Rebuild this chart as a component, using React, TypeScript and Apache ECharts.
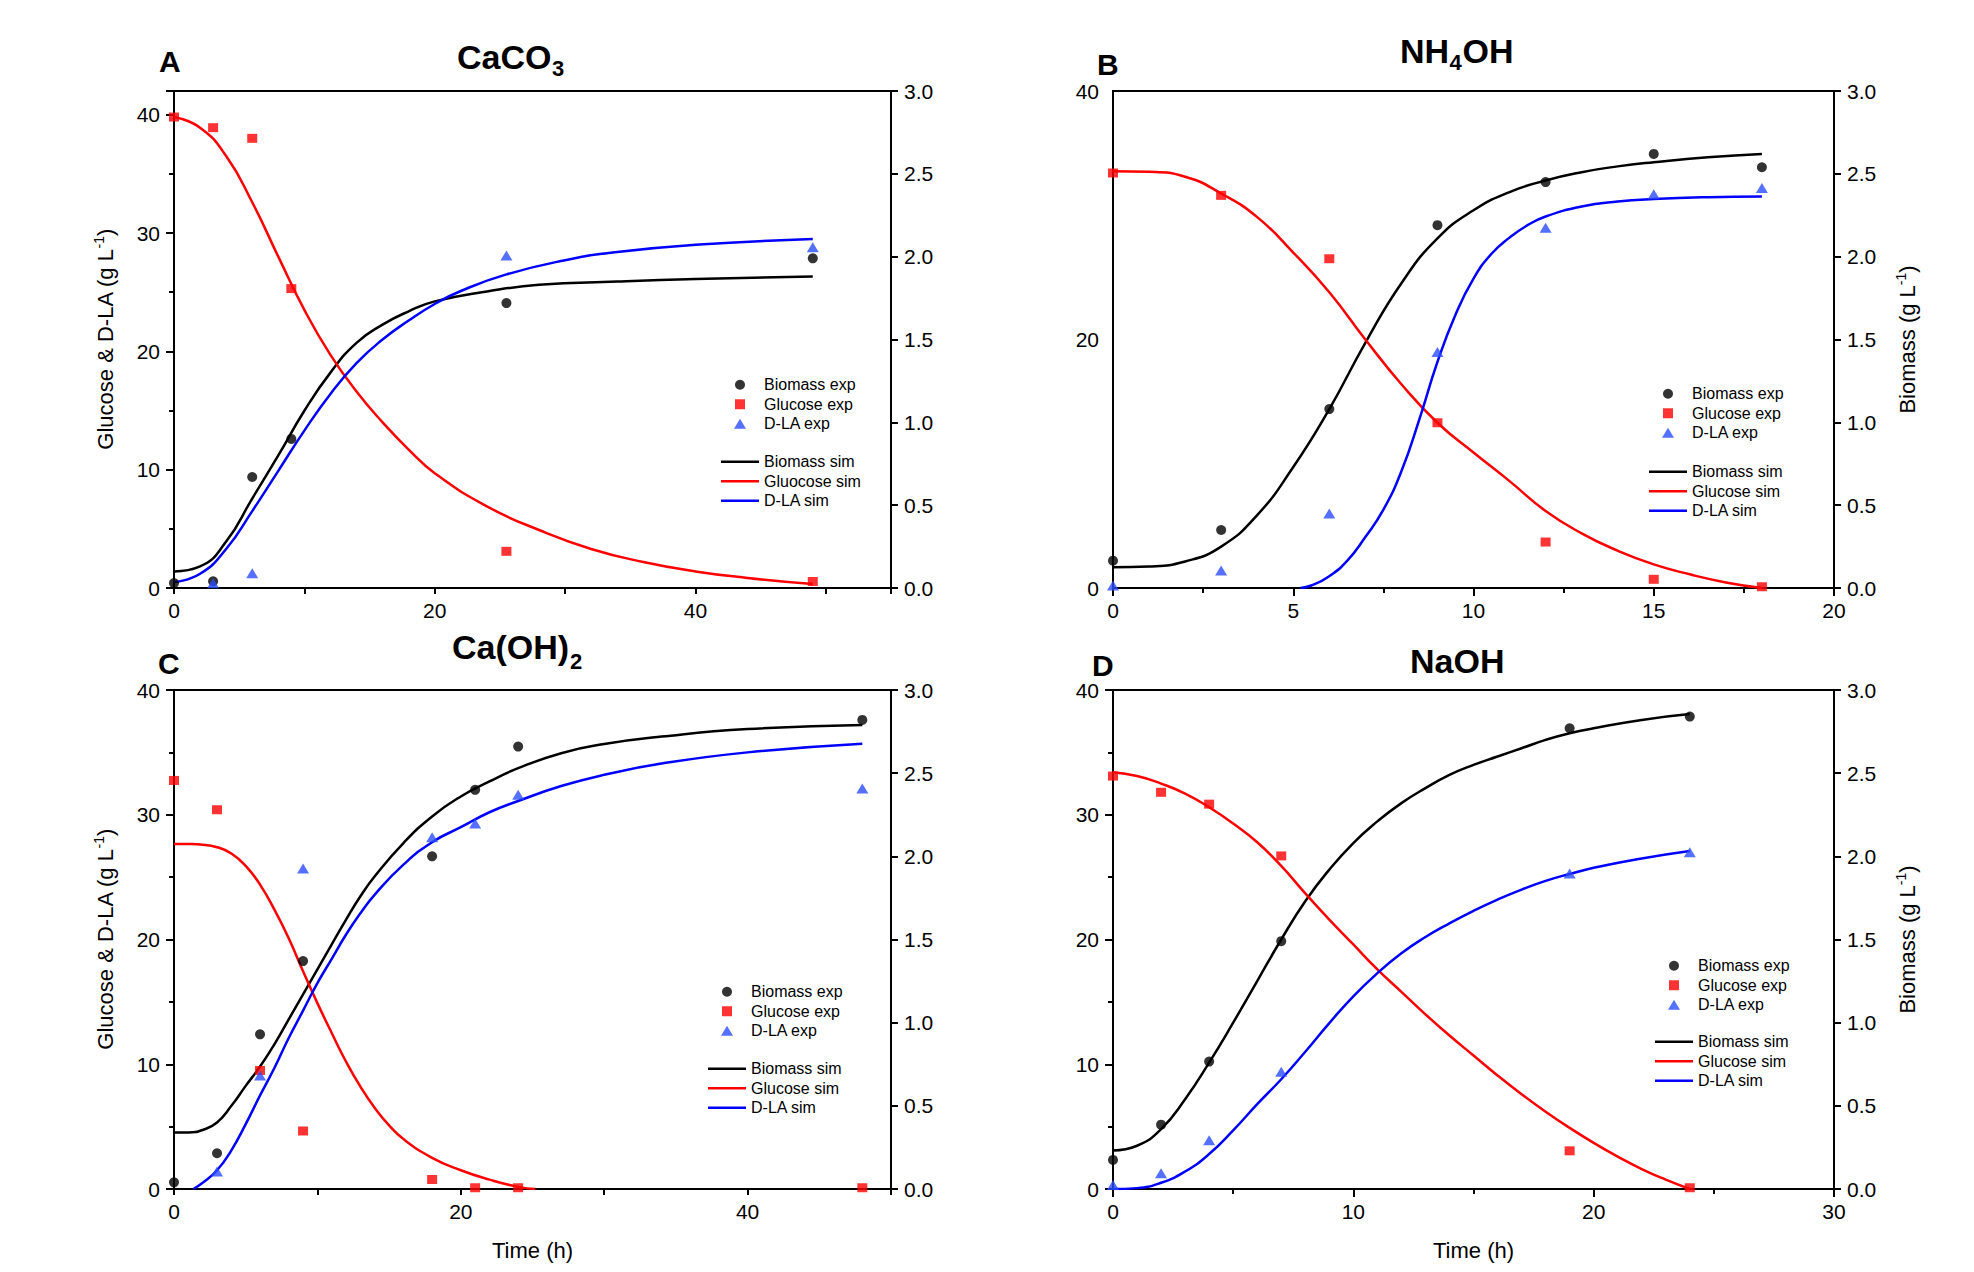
import React, { useEffect, useRef } from 'react';
import * as echarts from 'echarts';

const FONT = 'Liberation Sans, Arial, sans-serif';

// ---------- Panel A : CaCO3 ----------
const aTime = [0, 3, 6, 9, 25.5, 49];
const aBiomassExp = [0.03, 0.04, 0.67, 0.9, 1.72, 1.99];
const aGlucoseExp = [39.8, 38.9, 38.0, 25.3, 3.1, 0.55];
const aDlaExp = [null, 0.4, 1.25, null, 28.1, 28.8];
const aBiomassSim = [[0, 0.1], [2, 0.13], [4, 0.28], [6, 0.54], [8, 0.8], [10, 1.07], [12, 1.3], [14, 1.48], [16, 1.59], [18, 1.67], [20, 1.73], [24, 1.79], [28, 1.83], [34, 1.85], [40, 1.865], [49, 1.88]];
const aGlucoseSim = [[0, 39.8], [2, 38.9], [4, 36.5], [6, 32.6], [8, 28.0], [10, 23.5], [12, 19.7], [14, 16.6], [16, 14.0], [18, 11.7], [20, 9.7], [24, 6.9], [28, 4.9], [32, 3.3], [36, 2.2], [40, 1.4], [44, 0.85], [49, 0.33]];
const aDlaSim = [[0, 0.5], [2, 1.2], [4, 3.3], [6, 6.5], [8, 9.9], [10, 13.3], [12, 16.4], [14, 19.0], [16, 21.0], [18, 22.6], [20, 24.0], [22, 25.1], [25.5, 26.5], [30, 27.7], [34, 28.4], [40, 29.0], [49, 29.5]];

// ---------- Panel B : NH4OH ----------
const bTime = [0, 3, 6, 9, 12, 15, 18];
const bBiomassExp = [0.165, 0.35, 1.08, 2.19, 2.45, 2.62, 2.54];
const bGlucoseExp = [33.4, 31.6, 26.5, 13.3, 3.7, 0.7, 0.1];
const bDlaExp = [0.2, 1.4, 6.0, 19.0, 29.0, 31.7, 32.2];
const bBiomassSim = [[0, 0.125], [1, 0.13], [2, 0.16], [3, 0.25], [4, 0.44], [5, 0.73], [6, 1.08], [7, 1.48], [8, 1.84], [9, 2.11], [10, 2.28], [11, 2.39], [12, 2.46], [13, 2.51], [14, 2.545], [15, 2.57], [16.5, 2.6], [18, 2.62]];
const bGlucoseSim = [[0, 33.55], [1, 33.5], [2, 33.1], [3, 31.75], [4, 29.85], [5, 27.0], [6, 23.8], [7, 20.0], [8, 16.4], [9, 13.3], [10, 10.9], [11, 8.6], [12, 6.2], [13, 4.4], [14, 3.0], [15, 1.9], [16, 1.1], [17, 0.45], [18, 0]];
const bDlaSim = [[5.2, 0], [5.5, 0.2], [6, 0.95], [6.5, 2.2], [7, 4.1], [7.5, 6.3], [8, 9.4], [8.5, 13.6], [9, 18.2], [9.5, 22.0], [10, 24.9], [10.5, 26.9], [11, 28.2], [11.5, 29.2], [12, 29.9], [13, 30.7], [14, 31.1], [15, 31.3], [16.5, 31.45], [18, 31.5]];

// ---------- Panel C : Ca(OH)2 ----------
const cTime = [0, 3, 6, 9, 18, 21, 24, 48];
const cBiomassExp = [0.04, 0.215, 0.93, 1.37, 2.0, 2.4, 2.66, 2.82];
const cGlucoseExp = [32.75, 30.4, 9.5, 4.65, 0.76, 0.1, 0.1, 0.1];
const cDlaExp = [null, 1.4, 9.1, 25.7, 28.2, 29.3, 31.6, 32.1];
const cBiomassSim = [[0, 0.34], [1, 0.34], [2, 0.355], [3, 0.4], [4, 0.5], [5, 0.62], [6, 0.736], [7, 0.87], [8, 1.02], [9, 1.17], [10, 1.32], [11, 1.47], [12, 1.62], [13, 1.76], [14, 1.88], [16, 2.08], [18, 2.24], [20, 2.36], [22, 2.45], [24, 2.53], [27, 2.62], [30, 2.675], [34, 2.72], [40, 2.765], [48, 2.79]];
const cGlucoseSim = [[0, 27.66], [1, 27.65], [2, 27.6], [3, 27.4], [4, 26.9], [5, 25.9], [6, 24.4], [7, 22.4], [8, 20.1], [9, 17.45], [10, 14.9], [11, 12.5], [12, 10.2], [13, 8.2], [14, 6.5], [15, 5.1], [16, 4.0], [18, 2.5], [20, 1.5], [22, 0.75], [24, 0.17], [25.2, 0]];
const cDlaSim = [[1.35, 0], [2, 0.5], [3, 1.5], [4, 3.1], [5, 5.2], [6, 7.5], [7, 9.7], [8, 12.1], [9, 14.3], [10, 16.5], [11, 18.45], [12, 20.4], [13, 22.1], [14, 23.6], [16, 26.0], [18, 27.8], [20, 29.0], [22, 30.2], [24, 31.1], [27, 32.3], [30, 33.2], [34, 34.1], [40, 35.0], [48, 35.7]];

// ---------- Panel D : NaOH ----------
const dTime = [0, 2, 4, 7, 19, 24];
const dBiomassExp = [0.175, 0.387, 0.766, 1.49, 2.77, 2.84];
const dGlucoseExp = [33.1, 31.8, 30.85, 26.7, 3.06, 0.1];
const dDlaExp = [0.33, 1.26, 3.9, 9.4, 25.3, 27.0];
const dBiomassSim = [[0, 0.232], [1, 0.26], [2, 0.36], [3, 0.54], [4, 0.76], [5, 1.0], [6, 1.25], [7, 1.5], [8, 1.73], [9, 1.92], [10, 2.08], [11, 2.21], [12, 2.32], [13, 2.41], [14, 2.49], [15, 2.55], [16, 2.6], [17, 2.65], [18, 2.7], [19, 2.74], [20, 2.77], [22, 2.82], [24, 2.855]];
const dGlucoseSim = [[0, 33.4], [1, 33.1], [2, 32.5], [3, 31.7], [4, 30.6], [5, 29.3], [6, 27.8], [7, 25.9], [8, 23.7], [9, 21.6], [10, 19.6], [11, 17.6], [12, 15.8], [13, 14.0], [14, 12.3], [15, 10.7], [16, 9.1], [17, 7.6], [18, 6.2], [19, 4.9], [20, 3.7], [21, 2.6], [22, 1.6], [23, 0.75], [24, 0]];
const dDlaSim = [[0, 0], [1, 0.07], [2, 0.5], [3, 1.4], [4, 2.8], [5, 4.7], [6, 6.8], [7, 8.8], [8, 11.0], [9, 13.3], [10, 15.45], [11, 17.3], [12, 18.9], [13, 20.2], [14, 21.3], [15, 22.3], [16, 23.2], [17, 24.0], [18, 24.7], [19, 25.25], [20, 25.75], [22, 26.5], [24, 27.1]];

// ---------- Labels ----------
const expNames = ['Biomass exp', 'Glucose exp', 'D-LA exp'];
const simNamesA = ['Biomass sim', 'Gluocose sim', 'D-LA sim'];
const simNames = ['Biomass sim', 'Glucose sim', 'D-LA sim'];
const leftAxisName = '{t|Glucose & D-LA (g L}{s|-1}{t|)}';
const rightAxisName = '{t|Biomass (g L}{s|-1}{t|)}';
const timeName = 'Time (h)';

// legend icon shapes
const expIcons = ['circle', 'path://M0,0 L10,0 L10,10 L0,10 Z', 'path://M6,0 L12,10 L0,10 Z'];
const simIcon = 'path://M0,0 L38,0 L38,2.5 L0,2.5 Z';

const pts = (t: number[], v: (number | null)[]) =>
  t.map((x, i) => [x, v[i]]).filter((p) => p[1] !== null);

const panels = [
  {
    grid: { left: 174, top: 91, width: 717, height: 497 },
    xMax: 55, xInterval: 10, xLabelStep: 20, xMinor: false,
    yMax: 42, yInterval: 10, yMinor: true, yTicks: true,
    leftName: true, rightName: false, timeName: false,
    expLeft: 734, simLeft: 721, expTop: 375, simTop: 452, sim: simNamesA,
    time: aTime, bExp: aBiomassExp, gExp: aGlucoseExp, dExp: aDlaExp,
    bSim: aBiomassSim, gSim: aGlucoseSim, dSim: aDlaSim,
  },
  {
    grid: { left: 1113, top: 91, width: 721, height: 497 },
    xMax: 20, xInterval: 5, xLabelStep: 5, xMinor: true,
    yMax: 40, yInterval: 20, yMinor: false, yTicks: false,
    leftName: false, rightName: true, timeName: false,
    expLeft: 1662, simLeft: 1649, expTop: 384, simTop: 462, sim: simNames,
    time: bTime, bExp: bBiomassExp, gExp: bGlucoseExp, dExp: bDlaExp,
    bSim: bBiomassSim, gSim: bGlucoseSim, dSim: bDlaSim,
  },
  {
    grid: { left: 174, top: 690, width: 717, height: 499 },
    xMax: 50, xInterval: 10, xLabelStep: 20, xMinor: false,
    yMax: 40, yInterval: 10, yMinor: true, yTicks: true,
    leftName: true, rightName: false, timeName: true,
    expLeft: 721, simLeft: 708, expTop: 982, simTop: 1059, sim: simNames,
    time: cTime, bExp: cBiomassExp, gExp: cGlucoseExp, dExp: cDlaExp,
    bSim: cBiomassSim, gSim: cGlucoseSim, dSim: cDlaSim,
  },
  {
    grid: { left: 1113, top: 690, width: 721, height: 499 },
    xMax: 30, xInterval: 10, xLabelStep: 10, xMinor: true,
    yMax: 40, yInterval: 10, yMinor: true, yTicks: true,
    leftName: false, rightName: true, timeName: true,
    expLeft: 1668, simLeft: 1655, expTop: 956, simTop: 1032, sim: simNames,
    time: dTime, bExp: dBiomassExp, gExp: dGlucoseExp, dExp: dDlaExp,
    bSim: dBiomassSim, gSim: dGlucoseSim, dSim: dDlaSim,
  },
];

const titleTexts = [
  { text: 'A', x: 159, y: 61, size: 30 },
  { text: 'CaCO', x: 457, y: 56.5, size: 34 },
  { text: '3', x: 552, y: 68, size: 22 },
  { text: 'B', x: 1097, y: 64.5, size: 30 },
  { text: 'NH', x: 1400, y: 50.5, size: 34 },
  { text: '4', x: 1449.5, y: 62, size: 22 },
  { text: 'OH', x: 1462.5, y: 50.5, size: 34 },
  { text: 'C', x: 158, y: 663, size: 30 },
  { text: 'Ca(OH)', x: 452, y: 647, size: 34 },
  { text: '2', x: 570, y: 661, size: 22 },
  { text: 'D', x: 1092, y: 665, size: 30 },
  { text: 'NaOH', x: 1410, y: 661, size: 34 },
];

const axisLineStyle = { color: '#000', width: 2 };
const nameRich = {
  t: { fontSize: 22, fontFamily: FONT, color: '#000', lineHeight: 26 },
  s: { fontSize: 14, fontFamily: FONT, color: '#000', lineHeight: 14, verticalAlign: 'top' },
};

function buildOption() {
  const grid: any[] = [];
  const xAxis: any[] = [];
  const yAxis: any[] = [];
  const series: any[] = [];
  const legend: any[] = [];

  panels.forEach((p, i) => {
    grid.push({ ...p.grid, containLabel: false, show: true, borderColor: '#000', borderWidth: 2, backgroundColor: 'transparent' });

    xAxis.push({
      type: 'value', gridIndex: i, min: 0, max: p.xMax, interval: p.xInterval, position: 'bottom',
      axisLine: { show: true, onZero: false, lineStyle: axisLineStyle },
      axisTick: { show: true, inside: false, length: p.xMinor ? 8 : 6, lineStyle: axisLineStyle },
      minorTick: { show: p.xMinor, splitNumber: 2, length: 5, lineStyle: axisLineStyle },
      splitLine: { show: false },
      axisLabel: {
        fontSize: 21, fontFamily: FONT, color: '#000', margin: 12,
        formatter: (v: number) => (Math.abs(v / p.xLabelStep - Math.round(v / p.xLabelStep)) < 1e-6 ? String(v) : ''),
      },
      name: p.timeName ? timeName : '',
      nameLocation: 'middle', nameGap: 50,
      nameTextStyle: { fontSize: 22, fontFamily: FONT, color: '#000' },
    });

    yAxis.push({
      type: 'value', gridIndex: i, min: 0, max: p.yMax, interval: p.yInterval, position: 'left',
      axisLine: { show: true, onZero: false, lineStyle: axisLineStyle },
      axisTick: { show: p.yTicks, inside: false, length: 8, lineStyle: axisLineStyle },
      minorTick: { show: p.yMinor, splitNumber: 2, length: 5, lineStyle: axisLineStyle },
      splitLine: { show: false },
      axisLabel: {
        fontSize: 21, fontFamily: FONT, color: '#000', margin: 14,
        formatter: (v: number) => (Math.abs(v / 10 - Math.round(v / 10)) < 1e-6 ? String(v) : ''),
      },
      name: p.leftName ? leftAxisName : '',
      nameLocation: 'middle', nameRotate: 90, nameGap: 56,
      nameTextStyle: { rich: nameRich },
    });

    yAxis.push({
      type: 'value', gridIndex: i, min: 0, max: 3, interval: 0.5, position: 'right',
      axisLine: { show: true, onZero: false, lineStyle: axisLineStyle },
      axisTick: { show: true, inside: false, length: 7, lineStyle: axisLineStyle },
      splitLine: { show: false },
      axisLabel: {
        fontSize: 21, fontFamily: FONT, color: '#000', margin: 13,
        formatter: (v: number) => v.toFixed(1),
      },
      name: p.rightName ? rightAxisName : '',
      nameLocation: 'middle', nameRotate: 90, nameGap: 60,
      nameTextStyle: { rich: nameRich },
    });

    const lx = i, ly = 2 * i, ry = 2 * i + 1;
    const lineCommon = { type: 'line', xAxisIndex: lx, symbol: 'none', smooth: 0.5, z: 2 };
    series.push(
      { ...lineCommon, name: p.sim[0], yAxisIndex: ry, data: p.bSim, lineStyle: { color: '#000', width: 2.5 }, itemStyle: { color: '#000' } },
      { ...lineCommon, name: p.sim[1], yAxisIndex: ly, data: p.gSim, lineStyle: { color: '#ff0000', width: 2.5 }, itemStyle: { color: '#ff0000' } },
      { ...lineCommon, name: p.sim[2], yAxisIndex: ly, data: p.dSim, lineStyle: { color: '#0000ff', width: 2.5 }, itemStyle: { color: '#0000ff' } },
      { type: 'scatter', name: expNames[0], xAxisIndex: lx, yAxisIndex: ry, data: pts(p.time, p.bExp), symbol: 'circle', symbolSize: 10, itemStyle: { color: '#000' }, z: 3 },
      { type: 'scatter', name: expNames[1], xAxisIndex: lx, yAxisIndex: ly, data: pts(p.time, p.gExp), symbol: 'rect', symbolSize: [10, 9], itemStyle: { color: '#ff0000' }, z: 3 },
      { type: 'scatter', name: expNames[2], xAxisIndex: lx, yAxisIndex: ly, data: pts(p.time, p.dExp), symbol: 'triangle', symbolSize: [12, 10], itemStyle: { color: '#2b4cff' }, z: 3 },
    );

    const legendBase = {
      orient: 'vertical', itemWidth: 38, itemHeight: 10, itemGap: 0, padding: 0,
      selectedMode: false, symbolKeepAspect: true,
      textStyle: { fontSize: 16, fontFamily: FONT, color: '#000', lineHeight: 19.5 },
    };
    legend.push({ ...legendBase, left: p.expLeft, top: p.expTop, data: expNames.map((n, k) => ({ name: n, icon: expIcons[k] })) });
    legend.push({ ...legendBase, left: p.simLeft, top: p.simTop, data: p.sim.map((n) => ({ name: n, icon: simIcon })) });
  });

  const graphic = titleTexts.map((t) => ({
    type: 'text', x: t.x, y: t.y, silent: true,
    style: { text: t.text, fontSize: t.size, fontWeight: 'bold', fontFamily: FONT, fill: '#000', align: 'left', verticalAlign: 'middle' },
  }));

  return {
    animation: false,
    backgroundColor: '#fff',
    textStyle: { fontFamily: FONT },
    grid, xAxis, yAxis, series, legend, graphic,
  };
}

export default function App() {
  const ref = useRef<HTMLDivElement>(null);
  useEffect(() => {
    if (!ref.current) return;
    const chart = echarts.init(ref.current, undefined, { renderer: 'svg' });
    chart.setOption(buildOption() as any);
    return () => chart.dispose();
  }, []);
  return <div ref={ref} style={{ position: 'absolute', left: 0, top: 0, width: 1974, height: 1272 }} />;
}
